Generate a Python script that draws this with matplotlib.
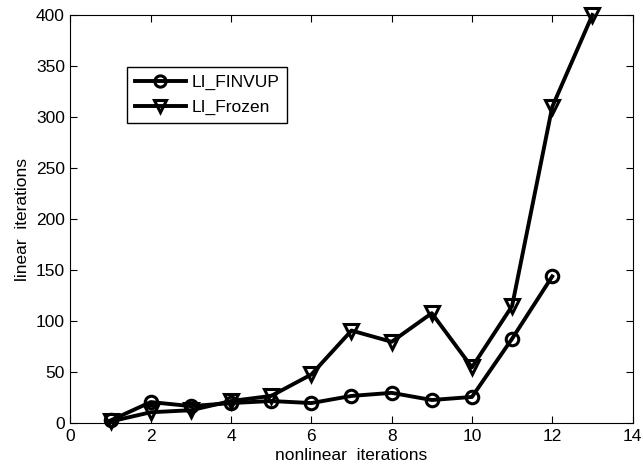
import numpy as np
import matplotlib.pyplot as plt

plt.rcParams['font.family'] = ['Liberation Sans', 'DejaVu Sans']

# data
it_finvup = [1, 2, 3, 4, 5, 6, 7, 8, 9, 10, 11, 12]
li_finvup = [3, 21, 17, 20, 22, 20, 27, 30, 23, 26, 83, 144]
it_frozen = [1, 2, 3, 4, 5, 6, 7, 8, 9, 10, 11, 12, 13]
li_frozen = [2, 11, 13, 22, 27, 48, 91, 80, 108, 55, 115, 310, 400]

fs = 12.5

fig = plt.figure(figsize=(6.43, 4.68), dpi=100)
ax = fig.add_axes([0.1096, 0.0951, 0.8741, 0.8729])

ax.plot(it_finvup, li_finvup, 'k-o', lw=2.8, ms=9, mfc='none', mew=2.2,
        label='LI_FINVUP', clip_on=False)
ax.plot(it_frozen, li_frozen, 'k-v', lw=2.8, ms=10, mfc='none', mew=2.2,
        label='LI_Frozen', clip_on=False)

ax.set_xlim(0, 14)
ax.set_ylim(0, 400)
ax.set_xticks(np.arange(0, 15, 2))
ax.set_yticks(np.arange(0, 401, 50))
ax.tick_params(direction='in', top=True, right=True, labelsize=fs, length=5, pad=4)
ax.set_xlabel('nonlinear  iterations', fontsize=fs, labelpad=3)
ax.set_ylabel('linear  iterations', fontsize=fs, labelpad=4)

leg = ax.legend(loc='upper left', bbox_to_anchor=(0.1005, 0.873), fancybox=False,
                edgecolor='k', framealpha=1, fontsize=fs, handlelength=2.95,
                handletextpad=0.3, borderpad=0.45, labelspacing=0.55,
                borderaxespad=0, markerscale=0.9)
leg.get_frame().set_linewidth(1.0)

fig.savefig('out.png', dpi=100)
